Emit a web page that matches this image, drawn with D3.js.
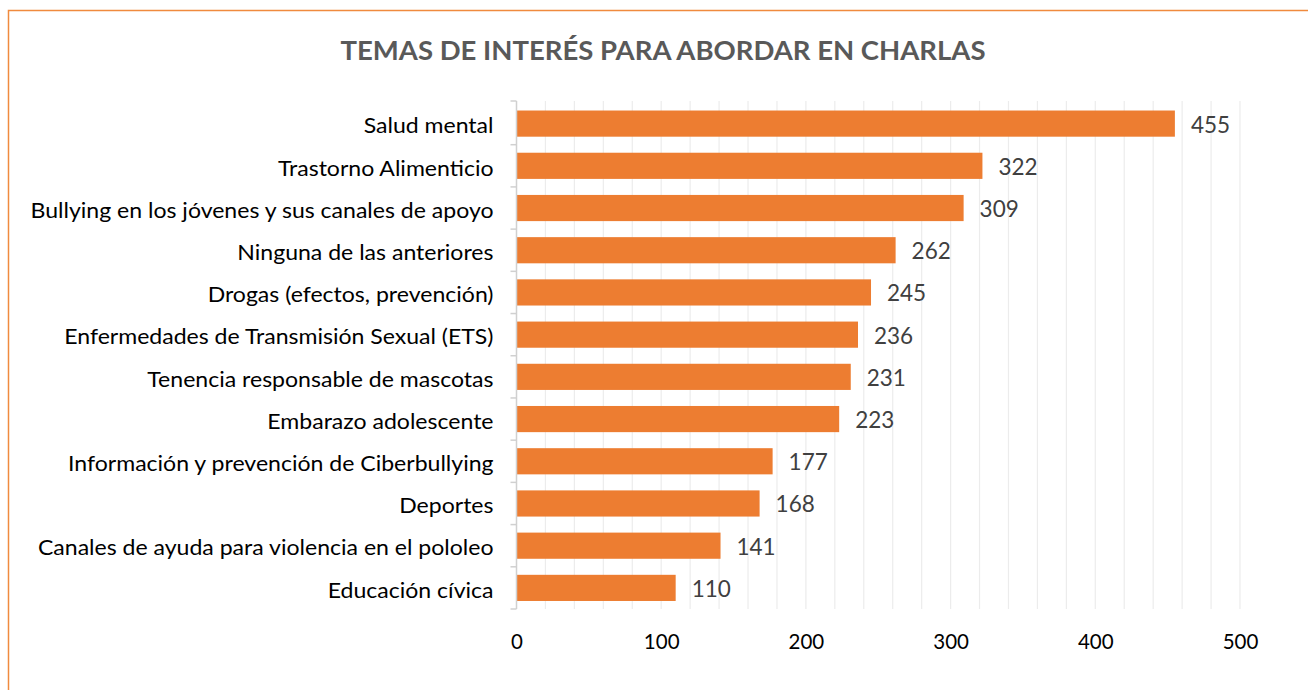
<!DOCTYPE html>
<html>
<head>
<meta charset="utf-8">
<script src="https://cdn.jsdelivr.net/npm/d3@7"></script>
<style>
  body { margin: 0; background: #fff; }
  svg { display: block; }
  text { font-family: Lato, "Noto Sans", sans-serif; }
</style>
</head>
<body>
<div id="wrapper"></div>
<script>
// DATA
const categories = [
  "Salud mental",
  "Trastorno Alimenticio",
  "Bullying en los jóvenes y sus canales de apoyo",
  "Ninguna de las anteriores",
  "Drogas (efectos, prevención)",
  "Enfermedades de Transmisión Sexual (ETS)",
  "Tenencia responsable de mascotas",
  "Embarazo adolescente",
  "Información y prevención de Ciberbullying",
  "Deportes",
  "Canales de ayuda para violencia en el pololeo",
  "Educación cívica",
];
const values = [455, 322, 309, 262, 245, 236, 231, 223, 177, 168, 141, 110];
const xTicks = [0, 100, 200, 300, 400, 500];
const title = "TEMAS DE INTERÉS PARA ABORDAR EN CHARLAS";

const dataset = categories.map((c, i) => ({ category: c, value: values[i] }));
const xAccessor = (d) => d.value;
const yAccessor = (d) => d.category;

// DIMENSIONS
let dimensions = {
  width: 1308,
  height: 690,
  margin: { top: 102.5, right: 68, bottom: 81, left: 516.5 },
};
dimensions.boundedWidth =
  dimensions.width - dimensions.margin.left - dimensions.margin.right;
dimensions.boundedHeight =
  dimensions.height - dimensions.margin.top - dimensions.margin.bottom;

const wrapper = d3
  .select("#wrapper")
  .append("svg")
  .attr("width", dimensions.width)
  .attr("height", dimensions.height);

// chart border (runs off the right / bottom edge)
wrapper
  .append("rect")
  .attr("x", 8.5)
  .attr("y", 10.5)
  .attr("width", 1320)
  .attr("height", 700)
  .attr("fill", "none")
  .attr("stroke", "#f08a3e")
  .attr("stroke-width", 1.5);

// title - condensed to the reference width
const titleText = wrapper
  .append("text")
  .attr("x", 663)
  .attr("y", 60)
  .attr("text-anchor", "middle")
  .attr("fill", "#595959")
  .style("font-weight", "bold")
  .style("font-size", "27px")
  .attr("textLength", 645)
  .attr("lengthAdjust", "spacingAndGlyphs")
  .text(title);

const bounds = wrapper
  .append("g")
  .attr(
    "transform",
    `translate(${dimensions.margin.left},${dimensions.margin.top})`
  );

// SCALES
const xScale = d3
  .scaleLinear()
  .domain([0, 500])
  .range([0, 1240 - dimensions.margin.left]);

const yScale = d3
  .scaleBand()
  .domain(categories)
  .range([0, dimensions.boundedHeight])
  .paddingInner(0.38)
  .paddingOuter(0.19);

// gridlines every 20
const gridValues = d3.range(20, 501, 20);
bounds
  .append("g")
  .selectAll("line")
  .data(gridValues)
  .join("line")
  .attr("x1", (d) => xScale(d))
  .attr("x2", (d) => xScale(d))
  .attr("y1", -1.5)
  .attr("y2", dimensions.boundedHeight)
  .attr("stroke", "#ececec")
  .attr("stroke-width", 1.2);

// bars
bounds
  .append("g")
  .selectAll("rect")
  .data(dataset)
  .join("rect")
  .attr("x", 0)
  .attr("y", (d) => yScale(yAccessor(d)))
  .attr("width", (d) => xScale(xAccessor(d)))
  .attr("height", yScale.bandwidth())
  .attr("fill", "#ed7d31");

// value labels
bounds
  .append("g")
  .selectAll("text")
  .data(dataset)
  .join("text")
  .attr("x", (d) => xScale(xAccessor(d)) + 16)
  .attr("y", (d) => yScale(yAccessor(d)) + yScale.bandwidth() / 2)
  .attr("dy", "0.4em")
  .attr("fill", "#404040")
  .style("font-size", "22.5px")
  .text((d) => xAccessor(d));

// AXES
const yAxisGenerator = d3
  .axisLeft()
  .scale(yScale)
  .tickSize(0)
  .tickPadding(23);
const yAxis = bounds.append("g").call(yAxisGenerator);
yAxis.select(".domain").remove();
yAxis
  .selectAll("text")
  .attr("fill", "#000")
  .attr("dy", "0.45em")
  .style("font-size", "21.5px");
// condense category labels so the longest matches the reference width
let maxLen = 0;
yAxis.selectAll("text").each(function () {
  maxLen = Math.max(maxLen, this.getComputedTextLength());
});
const k = 463 / maxLen;
yAxis.selectAll("text").each(function () {
  const len = this.getComputedTextLength();
  d3.select(this)
    .attr("textLength", len * k)
    .attr("lengthAdjust", "spacingAndGlyphs");
});

// axis line with category separator ticks
const sepValues = d3.range(0, categories.length + 1);
const step = yScale.step();
const outer = yScale.paddingOuter() * step - (yScale.paddingInner() * step) / 2;
const sepY = (d) =>
  d === 0 ? -1.5 : d === categories.length ? dimensions.boundedHeight : outer + d * step;
const axisLine = bounds.append("g");
axisLine
  .append("line")
  .attr("x1", 0)
  .attr("x2", 0)
  .attr("y1", -1.5)
  .attr("y2", dimensions.boundedHeight)
  .attr("stroke", "#d0d0d0")
  .attr("stroke-width", 1.5);
axisLine
  .selectAll(".sep")
  .data(sepValues)
  .join("line")
  .attr("class", "sep")
  .attr("x1", -6)
  .attr("x2", 0)
  .attr("y1", sepY)
  .attr("y2", sepY)
  .attr("stroke", "#d0d0d0")
  .attr("stroke-width", 1.5);

const xAxisGenerator = d3
  .axisBottom()
  .scale(xScale)
  .tickValues(xTicks)
  .tickSize(0)
  .tickPadding(25);
const xAxis = bounds
  .append("g")
  .call(xAxisGenerator)
  .attr("transform", `translate(0,${dimensions.boundedHeight})`);
xAxis.select(".domain").remove();
xAxis.selectAll("text").attr("fill", "#000").style("font-size", "20.5px");
</script>
</body>
</html>
